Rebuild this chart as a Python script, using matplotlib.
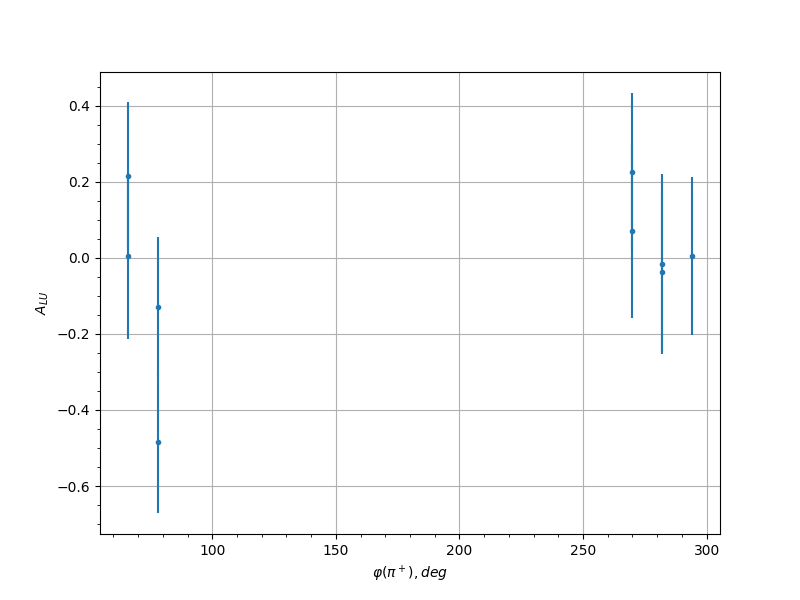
import matplotlib
matplotlib.use("Agg")
import matplotlib.pyplot as plt
import numpy as np

# phi bin centres (deg), asymmetry values and errors, two sets
phi = np.array([66, 78, 270, 282, 294, 66, 78, 270, 282])
alu = np.array([0.216, -0.129, 0.226, -0.016, 0.005, 0.005, -0.484, 0.071, -0.037])
alu_err = np.array([0.194, 0.184, 0.208, 0.237, 0.208, 0.218, 0.187, 0.229, 0.210])

fig, ax = plt.subplots(figsize=(8, 6), dpi=100)
ax.errorbar(phi, alu, yerr=alu_err, fmt=".", color="C0")
ax.set_xlabel(r"$\varphi(\pi^+), deg$")
ax.set_ylabel(r"$A_{LU}$")
ax.minorticks_on()
ax.grid(True, which="major")

fig.savefig("out.png")
